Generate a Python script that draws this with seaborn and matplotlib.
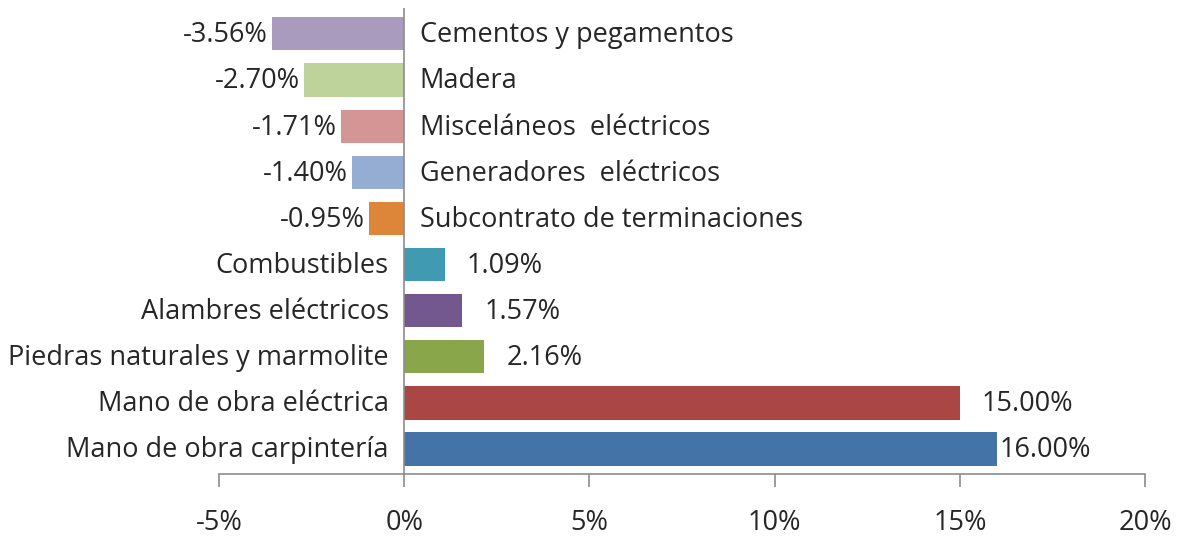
import matplotlib
matplotlib.use("Agg")
import matplotlib.pyplot as plt
import seaborn as sns
import pandas as pd

# Data
categories = [
    "Cementos y pegamentos",
    "Madera",
    "Misceláneos  eléctricos",
    "Generadores  eléctricos",
    "Subcontrato de terminaciones",
    "Combustibles",
    "Alambres eléctricos",
    "Piedras naturales y marmolite",
    "Mano de obra eléctrica",
    "Mano de obra carpintería",
]
values = [-3.56, -2.70, -1.71, -1.40, -0.95, 1.09, 1.57, 2.16, 15.00, 16.00]
colors = [
    "#A99BBD", "#BDD39B", "#D49694", "#95ACD3", "#DD8539",
    "#3F9AB2", "#73588F", "#8AA64B", "#AA4744", "#4473A8",
]
xticks = [-5, 0, 5, 10, 15, 20]

df = pd.DataFrame({"categoria": categories, "valor": values})

sns.set_theme(style="white")
plt.rcParams["font.family"] = ["Open Sans", "DejaVu Sans"]
TEXT = "#262626"
FS = 19.5

fig = plt.figure(figsize=(11.79, 5.36), dpi=100)
ax = fig.add_axes([0.1858, 0.1157, 0.9712 - 0.1858, 0.985 - 0.1157])

sns.barplot(data=df, y="categoria", x="valor", hue="categoria",
            palette=colors, orient="h", width=0.72, legend=False,
            saturation=1, linewidth=0, ax=ax)

ax.set_xlim(-5, 20)
ax.set_ylim(9.54, -0.56)
ax.set_xticks(xticks)
ax.set_xticklabels([f"{t}%" for t in xticks], fontsize=FS, color=TEXT)
ax.set_yticks([])
ax.set_xlabel("")
ax.set_ylabel("")

for s in ["top", "right", "left"]:
    ax.spines[s].set_visible(False)
ax.spines["bottom"].set_color("#8C8C8C")
ax.spines["bottom"].set_linewidth(1.2)
ax.tick_params(axis="x", direction="out", length=9, width=1.2,
               color="#8C8C8C", pad=16, bottom=True)
ax.axvline(0, color="#8C8C8C", lw=1.2, zorder=3)

# labels
for i, (cat, v) in enumerate(zip(categories, values)):
    if v < 0:
        ax.annotate(cat, (0, i), xytext=(11, -1), textcoords="offset points",
                    ha="left", va="center", fontsize=FS, color=TEXT)
        ax.annotate(f"{v:.2f}%", (v, i), xytext=(-3, -1), textcoords="offset points",
                    ha="right", va="center", fontsize=FS, color=TEXT)
    else:
        ax.annotate(cat, (0, i), xytext=(-11, -1), textcoords="offset points",
                    ha="right", va="center", fontsize=FS, color=TEXT)
        pad = 2 if v >= 16 else 16
        ax.annotate(f"{v:.2f}%", (v, i), xytext=(pad, -1), textcoords="offset points",
                    ha="left", va="center", fontsize=FS, color=TEXT)

fig.savefig("out.png", dpi=100)
